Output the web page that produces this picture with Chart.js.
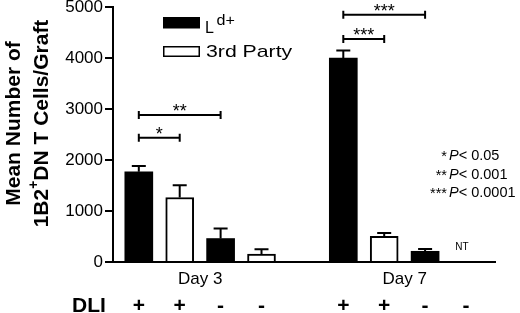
<!DOCTYPE html>
<html><head><meta charset="utf-8">
<script src="https://cdn.jsdelivr.net/npm/chart.js@4"></script>
<style>html,body{margin:0;padding:0;background:#fff;overflow:hidden}#wrap{width:520px;height:313px;position:relative}</style>
</head><body><div id="wrap"><canvas id="c" width="520" height="313"></canvas></div>
<script>
// ---- data ----
const slotLabels = ['Day 3 DLI+ Ld+', 'Day 3 DLI+ 3rd Party', 'Day 3 DLI- Ld+', 'Day 3 DLI- 3rd Party', '',
                    'Day 7 DLI+ Ld+', 'Day 7 DLI+ 3rd Party', 'Day 7 DLI- Ld+', 'Day 7 DLI- 3rd Party'];
const dliSigns    = ['+', '+', '-', '-', '', '+', '+', '-', '-'];
const ldMeans     = [1770, null, 460, null, null, 4000, null, 210, null];
const ldErrors    = [110,  null, 195, null, null, 145,  null, 45,  null];
const thirdMeans  = [null, 1265, null, 155, null, null, 505, null, null];
const thirdErrors = [null, 240,  null, 95,  null, null, 65,  null, null];
const notTested   = ['', '', '', '', '', '', '', '', 'NT'];
const dayLabels   = ['Day 3', 'Day 7'];
const daySlots    = [[0, 3], [5, 8]];
const yTicks      = [0, 1000, 2000, 3000, 4000, 5000];
const comparisons = [
  {from: 0, to: 1, label: '*',   level: 2437},
  {from: 0, to: 2, label: '**',  level: 2883},
  {from: 5, to: 6, label: '***', level: 4371},
  {from: 5, to: 7, label: '***', level: 4850}
];
const pStars  = ['*', '**', '***'];
const pValues = ['0.05', '0.001', '0.0001'];
const seriesNames = ['L', '3rd Party'];

const FAM = '"Liberation Sans", Arial, Helvetica, sans-serif';

function toPoints(means, errs) {
  return means.map((v, i) => ({x: i + 1, y: v, err: errs[i], name: slotLabels[i]})).filter(p => p.y !== null);
}

function txt(ctx, s, x, y, font, align, sx) {
  ctx.save();
  ctx.font = font; ctx.textAlign = align || 'left'; ctx.textBaseline = 'alphabetic'; ctx.fillStyle = '#000';
  ctx.translate(x, y); ctx.scale(sx || 1, 1); ctx.fillText(s, 0, 0);
  ctx.restore();
}

const annot = {
  id: 'annot',
  afterDatasetsDraw(chart) {
    const ctx = chart.ctx, xs = chart.scales.x, ys = chart.scales.y;
    const cx = i => xs.getPixelForValue(i + 1);
    ctx.save();
    ctx.strokeStyle = '#000'; ctx.lineWidth = 2; ctx.lineCap = 'butt';
    // error bars
    chart.data.datasets.forEach(ds => {
      ds.data.forEach(p => {
        const x = xs.getPixelForValue(p.x), y0 = ys.getPixelForValue(p.y), y1 = ys.getPixelForValue(p.y + p.err);
        ctx.beginPath(); ctx.moveTo(x, y0); ctx.lineTo(x, y1);
        ctx.moveTo(x - 7, y1); ctx.lineTo(x + 7, y1); ctx.stroke();
      });
    });
    // significance brackets
    comparisons.forEach(c => {
      const xa = cx(c.from), xb = cx(c.to), y = ys.getPixelForValue(c.level);
      ctx.beginPath();
      ctx.moveTo(xa, y); ctx.lineTo(xb, y);
      ctx.moveTo(xa, y - 4); ctx.lineTo(xa, y + 4);
      ctx.moveTo(xb, y - 4); ctx.lineTo(xb, y + 4);
      ctx.stroke();
      txt(ctx, c.label, (xa + xb) / 2, y + 2, '18px ' + FAM, 'center');
    });
    ctx.restore();

    // group labels
    dayLabels.forEach((d, k) => {
      const xc = (cx(daySlots[k][0]) + cx(daySlots[k][1])) / 2;
      txt(ctx, d, xc, 283.5, '17px ' + FAM, 'center');
    });
    // DLI row
    txt(ctx, 'DLI', 72, 311.5, 'bold 21px ' + FAM, 'left');
    dliSigns.forEach((s, i) => { if (s) txt(ctx, s, cx(i), 311.5, 'bold 21px ' + FAM, 'center'); });
    // NT
    notTested.forEach((s, i) => { if (s) txt(ctx, s, cx(i) - 4, 250, '10px ' + FAM, 'center'); });
    // P legend
    const pBase = [160, 178.5, 197];
    pStars.forEach((s, k) => {
      txt(ctx, s, 447, pBase[k] + 1, '14.5px ' + FAM, 'right');
      ctx.save(); ctx.font = 'italic 14.5px ' + FAM;
      const wP = ctx.measureText('P').width; ctx.restore();
      txt(ctx, 'P', 449, pBase[k], 'italic 14.5px ' + FAM, 'left');
      txt(ctx, '< ' + pValues[k], 449 + wP, pBase[k], '14.5px ' + FAM, 'left');
    });
    // series legend
    ctx.save();
    ctx.fillStyle = '#000'; ctx.fillRect(163, 17, 37, 11.5);
    ctx.fillStyle = '#fff'; ctx.fillRect(163.75, 46.75, 35.5, 9.5);
    ctx.strokeStyle = '#000'; ctx.lineWidth = 1.5; ctx.strokeRect(163.75, 46.75, 35.5, 9.5);
    ctx.restore();
    txt(ctx, seriesNames[0], 205, 33.3, '16px ' + FAM, 'left');
    txt(ctx, 'd+', 216.5, 25, '14px ' + FAM, 'left', 1.15);
    txt(ctx, seriesNames[1], 206, 57.3, '17px ' + FAM, 'left', 1.25);
  },
  afterDraw(chart) {
    const ctx = chart.ctx;
    ctx.save();
    ctx.fillStyle = '#000';
    ctx.rotate(-Math.PI / 2);
    ctx.textBaseline = 'alphabetic';
    const cy = 123.5;
    ctx.font = 'bold 21px ' + FAM; ctx.textAlign = 'center';
    ctx.fillText('Mean Number of', -cy, 20);
    // second line with superscript +
    ctx.textAlign = 'left';
    const a = '1B2', b = 'DN T Cells/Graft';
    ctx.font = 'bold 21px ' + FAM; const wa = ctx.measureText(a).width, wb = ctx.measureText(b).width;
    ctx.font = 'bold 14px ' + FAM; const ws = ctx.measureText('+').width;
    const u0 = -cy - (wa + ws + wb) / 2;
    ctx.font = 'bold 21px ' + FAM; ctx.fillText(a, u0, 48);
    ctx.font = 'bold 14px ' + FAM; ctx.fillText('+', u0 + wa, 37.5);
    ctx.font = 'bold 21px ' + FAM; ctx.fillText(b, u0 + wa + ws, 48);
    ctx.restore();
  }
};

new Chart(document.getElementById('c'), {
  type: 'bar',
  data: {
    datasets: [
      {label: 'Ld+', data: toPoints(ldMeans, ldErrors), backgroundColor: '#000', borderColor: '#000',
       borderWidth: 0, barThickness: 28, grouped: false},
      {label: '3rd Party', data: toPoints(thirdMeans, thirdErrors), backgroundColor: '#fff', borderColor: '#000',
       borderWidth: 2, barThickness: 28, grouped: false}
    ]
  },
  options: {
    responsive: false, animation: false, devicePixelRatio: 1,
    layout: {padding: {left: 0, right: 25, top: 7, bottom: 0}},
    plugins: {legend: {display: false}, tooltip: {enabled: false}},
    scales: {
      x: {
        type: 'linear', min: 0.369, max: 9.709, offset: false,
        grid: {display: false}, ticks: {display: false},
        border: {display: true, color: '#000', width: 2},
        afterFit(s) { s.height = 51; s.paddingLeft = 0; s.paddingRight = 0; }
      },
      y: {
        type: 'linear', min: 0, max: 5000,
        afterBuildTicks(s) { s.ticks = yTicks.map(v => ({value: v})); },
        grid: {drawOnChartArea: false, drawTicks: true, tickLength: 8, color: '#000', lineWidth: 2},
        border: {display: true, color: '#000', width: 2},
        ticks: {color: '#000', font: {family: FAM, size: 17}, padding: 2, callback: v => String(v)},
        afterFit(s) { s.width = 113; s.paddingTop = 0; s.paddingBottom = 0; }
      }
    }
  },
  plugins: [annot]
});
</script>
</body></html>
